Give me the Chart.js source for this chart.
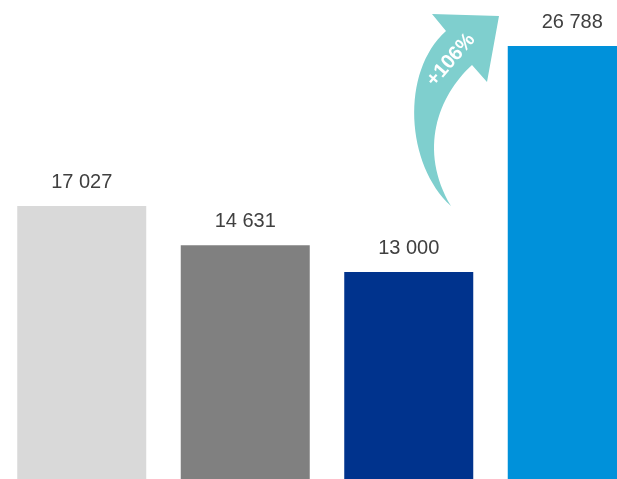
<!DOCTYPE html>
<html>
<head>
<meta charset="utf-8">
<script src="https://cdn.jsdelivr.net/npm/chart.js@4/dist/chart.umd.min.js"></script>
<style>
  html, body { margin: 0; padding: 0; background: #fff; overflow: hidden; }
  #wrap { width: 617px; height: 479px; overflow: hidden; position: relative; }
</style>
</head>
<body>
<div id="wrap">
  <canvas id="myChart" width="654" height="485"></canvas>
</div>
<script>
const categories = ["A", "B", "C", "D"];
const values = [17027, 14631, 13000, 26788];
const barColors = ["#D9D9D9", "#808080", "#00338D", "#0091DA"];
const growthLabel = "+106%";

function fmt(n) {
  return String(n).replace(/\B(?=(\d{3})+(?!\d))/g, " ");
}

// value labels above each bar
const valueLabels = {
  id: "valueLabels",
  afterDatasetsDraw(chart) {
    const ctx = chart.ctx;
    const meta = chart.getDatasetMeta(0);
    ctx.save();
    ctx.font = "20px 'Liberation Sans', Arial, sans-serif";
    ctx.fillStyle = "#404040";
    ctx.textAlign = "center";
    ctx.textBaseline = "alphabetic";
    meta.data.forEach((bar, i) => {
      ctx.fillText(fmt(values[i]), bar.x, bar.y - 18);
    });
    ctx.restore();
  }
};

// curved growth arrow between the last two bars
const growthArrow = {
  id: "growthArrow",
  afterDatasetsDraw(chart) {
    const ctx = chart.ctx;
    ctx.save();
    ctx.fillStyle = "#7FCFCE";
    ctx.beginPath();
    ctx.moveTo(451, 206);
    ctx.bezierCurveTo(406, 165, 400, 72, 446, 31);
    ctx.lineTo(432, 14);
    ctx.lineTo(499, 16);
    ctx.lineTo(487, 82);
    ctx.lineTo(472, 65);
    ctx.bezierCurveTo(438, 96, 418, 150, 451, 206);
    ctx.closePath();
    ctx.fill();

    ctx.translate(451, 60);
    ctx.rotate(-49 * Math.PI / 180);
    ctx.font = "bold 20px 'Liberation Sans', Arial, sans-serif";
    ctx.fillStyle = "#fff";
    ctx.textAlign = "center";
    ctx.textBaseline = "middle";
    ctx.fillText(growthLabel, 0, 0);
    ctx.restore();
  }
};

new Chart(document.getElementById("myChart"), {
  type: "bar",
  data: {
    labels: categories,
    datasets: [
      {
        data: values,
        backgroundColor: barColors,
        borderWidth: 0,
        categoryPercentage: 1,
        barPercentage: 0.789,
      },
    ],
  },
  options: {
    responsive: false,
    animation: false,
    layout: { padding: 0 },
    plugins: {
      legend: { display: false },
      tooltip: { enabled: false },
    },
    scales: {
      x: { display: false },
      y: { display: false, min: 0, max: 29600 },
    },
  },
  plugins: [valueLabels, growthArrow],
});
</script>
</body>
</html>
